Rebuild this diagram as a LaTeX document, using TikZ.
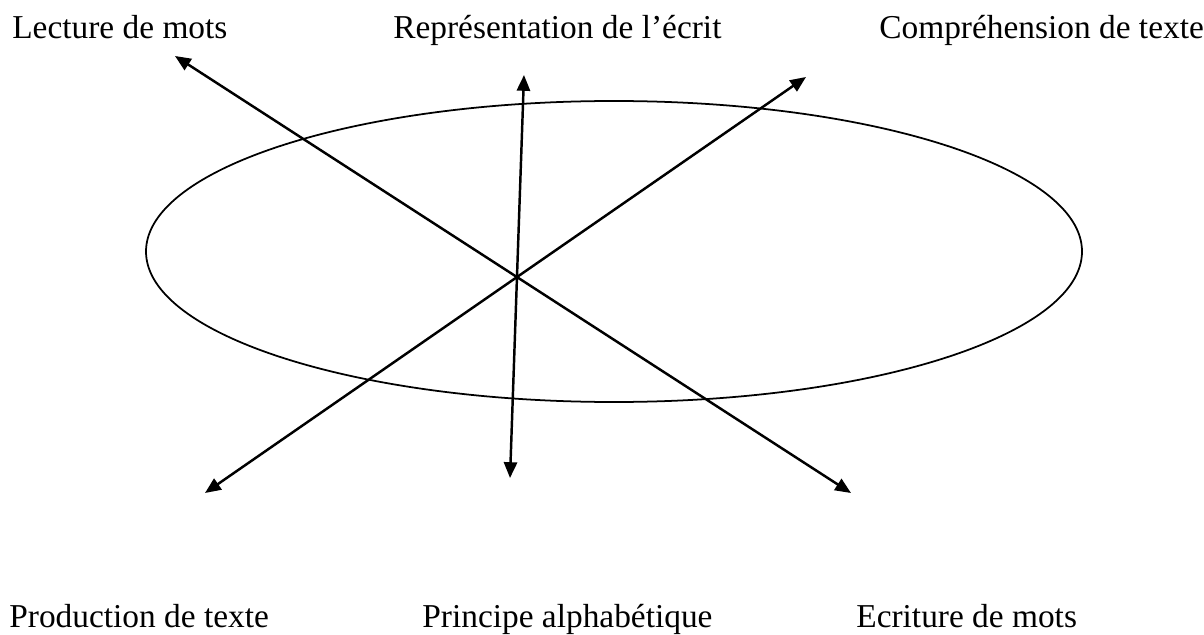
\documentclass[tikz,border=0pt]{standalone}
\usepackage{fontspec}
\setmainfont{Liberation Serif}
\usetikzlibrary{arrows.meta}
\begin{document}
\begin{tikzpicture}[x=0.02cm,y=-0.02cm,
  txt/.style={anchor=base west,inner sep=0pt,font=\fontsize{19}{23}\selectfont},
  link/.style={{Triangle[length=9pt,width=7.5pt]}-{Triangle[length=9pt,width=7.5pt]},line width=1.4pt}]
\useasboundingbox (0,0) rectangle (1204,635);
\draw[line width=1pt] (614,251.5) ellipse [x radius=468, y radius=150.5];
\node[txt] (lecture) at (12,39) {Lecture de mots};
\node[txt] (repres) at (393,39) {Représentation de l’écrit};
\node[txt] (compre) at (879,39) {Compréhension de texte};
\node[txt] (produc) at (9,627) {Production de texte};
\node[txt] (princ) at (422,627) {Principe alphabétique};
\node[txt] (ecrit) at (856,627) {Ecriture de mots};
\coordinate (L) at (175,56);
\coordinate (E) at (851,493);
\coordinate (R) at (524,75);
\coordinate (P) at (510,478);
\coordinate (C) at (806,77);
\coordinate (T) at (205,493);
\draw[link] (L) -- (E);
\draw[link] (R) -- (P);
\draw[link] (C) -- (T);
\end{tikzpicture}
\end{document}
